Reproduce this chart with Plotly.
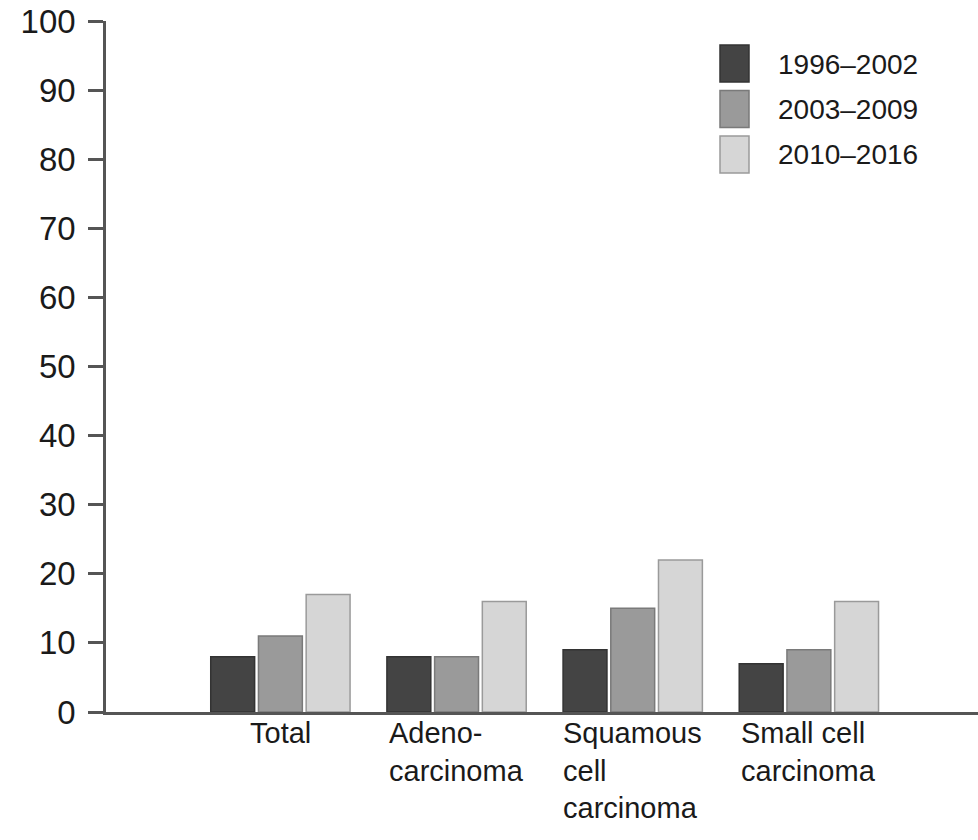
import plotly.graph_objects as go

categories = ["Total", "Adeno-carcinoma", "Squamous cell carcinoma", "Small cell carcinoma"]
category_labels = ["Total", "Adeno-<br>carcinoma", "Squamous<br>cell<br>carcinoma", "Small cell<br>carcinoma"]
series_names = ["1996\u20132002", "2003\u20132009", "2010\u20132016"]
values_1996_2002 = [8, 8, 9, 7]
values_2003_2009 = [11, 8, 15, 9]
values_2010_2016 = [17, 16, 22, 16]
y_ticks = [0, 10, 20, 30, 40, 50, 60, 70, 80, 90, 100]

series_values = [values_1996_2002, values_2003_2009, values_2010_2016]
fill_colors = ["#444444", "#9a9a9a", "#d6d6d6"]
line_colors = ["#333333", "#7a7a7a", "#9a9a9a"]

W, H = 978, 840
L, R, T = 106, 0, 21
B = H - 712
FONT = "Liberation Sans, Arial, sans-serif"
TXT = "#1a1a1a"

fig = go.Figure()
for name, vals, fc, lc in zip(series_names, series_values, fill_colors, line_colors):
    fig.add_trace(go.Bar(
        x=categories, y=vals, name=name,
        marker=dict(color=fc, line=dict(color=lc, width=1.5)),
        showlegend=False, hoverinfo="skip",
    ))

def px_x(p):
    return (p - L) / (W - L - R)

def px_y(p):
    return (H - B - p) / (H - T - B)

shapes = []
annotations = []
# legend drawn manually
for i, (name, fc, lc) in enumerate(zip(series_names, fill_colors, line_colors)):
    top = 45 + i * 45.5
    shapes.append(dict(type="rect", xref="paper", yref="paper",
                       x0=px_x(720), x1=px_x(749), y0=px_y(top + 37), y1=px_y(top),
                       fillcolor=fc, line=dict(color=lc, width=1.5)))
    annotations.append(dict(xref="paper", yref="paper", x=px_x(776), y=px_y(top + 19),
                            xanchor="left", yanchor="middle", showarrow=False,
                            text=name, font=dict(family=FONT, size=28, color=TXT)))

# category labels (left-aligned lines, centered block)
for cat, lab in zip(categories, category_labels):
    annotations.append(dict(xref="x", yref="y", x=cat, y=0, yshift=-3,
                            xanchor="center", yanchor="top", align="left",
                            showarrow=False, text=lab,
                            font=dict(family=FONT, size=29, color=TXT)))

fig.update_layout(
    width=W, height=H,
    margin=dict(l=L, r=R, t=T, b=B, pad=0, autoexpand=False),
    paper_bgcolor="white", plot_bgcolor="white",
    barmode="group", bargap=0.1875, bargroupgap=0.08,
    shapes=shapes, annotations=annotations,
    font=dict(family=FONT, color=TXT),
)
fig.update_xaxes(
    type="category", range=[-0.99, 3.96], automargin=False,
    showticklabels=False, ticks="", showgrid=False, zeroline=False,
    showline=True, linecolor="#555555", linewidth=2.5,
)
fig.update_yaxes(
    range=[0, 100], tickvals=y_ticks, ticktext=[str(v) for v in y_ticks],
    automargin=False,
    ticks="outside", ticklen=15, tickwidth=2.5, tickcolor="#555555",
    ticklabelstandoff=6, ticklabeloverflow="allow",
    showgrid=False, zeroline=False,
    showline=True, linecolor="#555555", linewidth=2.5,
    tickfont=dict(family=FONT, size=33, color=TXT),
)

fig.write_html(
    "out.html",
    config={"displayModeBar": False},
    post_script="document.body.style.margin='0';document.body.style.overflow='hidden';",
)
